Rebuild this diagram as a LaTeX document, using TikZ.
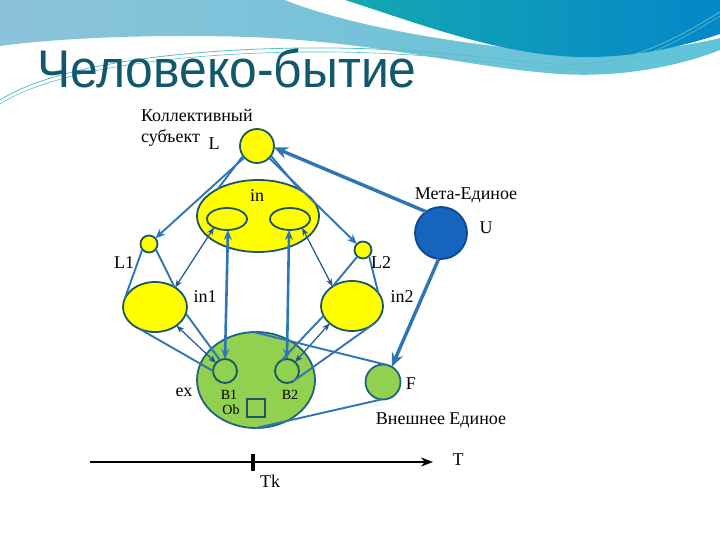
\documentclass[tikz,border=0pt]{standalone}
\usepackage{fontspec}
\setmainfont{Liberation Serif}
\newfontfamily\titlefont{Liberation Sans}
\usetikzlibrary{shapes.geometric,arrows.meta}
\definecolor{lnblue}{RGB}{46,117,182}
\definecolor{dkblue}{RGB}{30,85,150}
\definecolor{outl}{RGB}{28,85,100}
\definecolor{gout}{RGB}{30,100,130}
\definecolor{ylw}{RGB}{255,255,0}
\definecolor{grn}{RGB}{146,208,80}
\definecolor{ublue}{RGB}{21,101,192}
\definecolor{uout}{RGB}{20,70,140}
\definecolor{titlec}{RGB}{18,88,108}
\definecolor{bandL}{RGB}{140,195,218}
\definecolor{bandM}{RGB}{215,238,244}
\definecolor{bandR}{RGB}{95,195,215}
\definecolor{darkL}{RGB}{20,168,178}
\definecolor{darkR}{RGB}{5,135,200}
\definecolor{thinl}{RGB}{90,190,200}
\begin{document}
\begin{tikzpicture}[x=1pt,y=-1pt,
  every node/.style={inner sep=0pt, outer sep=0pt},
  yel/.style={draw=outl, line width=1.8pt, fill=ylw},
  grnode/.style={draw=gout, line width=1.8pt, fill=grn},
  circ/.style={circle, minimum size=#1},
  ell/.style 2 args={ellipse, minimum width=#1, minimum height=#2},
  conn/.style={draw=lnblue, line width=1.9pt},
  arr/.style={conn, -{Stealth[length=10pt,width=8pt]}},
  bigarr/.style={draw=lnblue, line width=3.4pt, -{Stealth[length=14pt,width=12pt]}},
  dbl/.style={draw=dkblue, line width=1.2pt, {Stealth[length=8pt,width=6pt]}-{Stealth[length=8pt,width=6pt]}},
  vdbl/.style={draw=lnblue, line width=2.6pt, {Stealth[length=10pt,width=8pt]}-{Stealth[length=10pt,width=8pt]}},
  lbl/.style={font=\fontsize{18}{21}\selectfont},
  sml/.style={font=\fontsize{14}{16}\selectfont},
]
\useasboundingbox (0,0) rectangle (720,540);
\fill[white] (0,0) rectangle (720,540);
% top decoration
\shade[left color=bandL, middle color=bandM, right color=bandR]
  (0,0) -- (720,0) -- (720,50) .. controls (680,66) and (620,78) .. (560,74)
  .. controls (470,68) and (380,42) .. (250,37) .. controls (150,34) and (60,38) .. (0,46) -- cycle;
\fill[white] (285,0) .. controls (340,22) and (430,40) .. (530,50)
  .. controls (600,57) and (670,50) .. (720,38) -- (720,0) -- cycle;
\shade[left color=darkL, right color=darkR]
  (345,0) .. controls (420,24) and (500,55) .. (580,57)
  .. controls (640,58) and (690,44) .. (720,34) -- (720,0) -- cycle;
\draw[line width=0.8pt, thinl] (0,100) .. controls (60,62) and (200,47) .. (330,48)
  .. controls (460,49) and (520,66) .. (580,64) .. controls (640,62) and (690,30) .. (720,12);
\draw[line width=0.6pt, thinl] (0,104) .. controls (60,66) and (200,51) .. (330,52)
  .. controls (460,53) and (520,70) .. (580,68) .. controls (640,66) and (690,34) .. (720,16);
% title
\node[anchor=base west, font=\titlefont\fontsize{53}{53}\selectfont, text=titlec] (title) at (37,88) {\scalebox{0.94}[1]{Человеко-бытие}};

% nodes
\node[yel, circ=34pt] (L) at (257,146) {};
\node[yel, ell={122pt}{72pt}] (in) at (258,216) {};
\node[yel, ell={40pt}{22pt}] (inL) at (227,219) {};
\node[yel, ell={40pt}{22pt}] (inR) at (290,219) {};
\node[yel, circ=17pt] (L1) at (149,244) {};
\node[yel, circ=17pt] (L2) at (363,250) {};
\node[yel, ell={64pt}{50pt}] (in1) at (155,307) {};
\node[yel, ell={62pt}{50pt}] (in2) at (352,306) {};
\node[grnode, ell={118pt}{96pt}] (ex) at (256,380) {};
\node[draw=outl, line width=1.8pt, fill=grn, circ=24pt] (B1) at (225,371) {};
\node[draw=outl, line width=1.8pt, fill=grn, circ=24pt] (B2) at (287,371) {};
\node[draw=outl, line width=1.8pt, minimum size=18pt] (ob) at (256,408) {};
\node[grnode, circ=35pt] (F) at (383,382) {};
\node[draw=uout, line width=1.8pt, fill=ublue, circ=52pt] (U) at (441,233) {};

% connectors
\draw[arr] (L) -- (L1);
\draw[conn] (L.215) -- (in.146);
\draw[conn] (L.-35) -- (in.33);
\draw[arr] (L) -- (L2);
\draw[bigarr] (U.125) -- (L.-5);
\draw[bigarr] (U.-95) -- (F.60);
\draw[conn] (L1.219) -- (in1.167);
\draw[conn] (L1.-38) -- (in1.45);
\draw[conn] (L2.229) -- (in2.135);
\draw[conn] (L2.-45) -- (in2.27);
\draw[dbl] (inL.213) -- (in1.44);
\draw[dbl] (inR.-36) -- (in2.135);
\draw[vdbl] (inL.-85) -- (B1.north);
\draw[vdbl] (inR.-95) -- (B2.north);
\draw[conn] (in1.235) -- (B1.180);
\draw[conn] (in1.-12) -- (B1.115);
\draw[dbl] (in1.-41) -- (B1.138);
\draw[dbl] (in2.218) -- (B2.48);
\draw[conn] (B2.118) -- (in2.199);
\draw[conn] (B2.-60) -- (in2.-40);
\draw[conn] (ex.93) -- (F.75);
\draw[conn] (ex.-90) -- (F.-95);

% labels
\node[lbl, anchor=west, align=left] (kol) at (141,128) {Коллективный\\субъект};
\node[lbl] (lL) at (214,144) {L};
\node[lbl] (lin) at (257,196) {in};
\node[lbl] (lL1) at (124,263) {L1};
\node[lbl] (lL2) at (381,263) {L2};
\node[lbl] (lin1) at (205,297) {in1};
\node[lbl] (lin2) at (402,297) {in2};
\node[lbl] (lex) at (184,392) {ex};
\node[sml] (lB1) at (229,395) {B1};
\node[sml] (lB2) at (290,395) {B2};
\node[sml] (lOb) at (231,410) {Ob};
\node[lbl] (meta) at (466,195) {Мета-Единое};
\node[lbl] (lU) at (486,228) {U};
\node[lbl] (lF) at (411,384) {F};
\node[lbl] (vnesh) at (441,420) {Внешнее Единое};

% timeline
\coordinate (t0) at (90,462);
\coordinate (t1) at (433,462);
\draw[line width=2pt, -{Stealth[length=12pt,width=9pt]}] (t0) -- (t1);
\node[fill=black, minimum width=3.5pt, minimum height=17pt] (tk) at (253,462) {};
\node[lbl] (lT) at (458,460) {T};
\node[lbl] (lTk) at (270,481) {Tk};
\end{tikzpicture}
\end{document}
